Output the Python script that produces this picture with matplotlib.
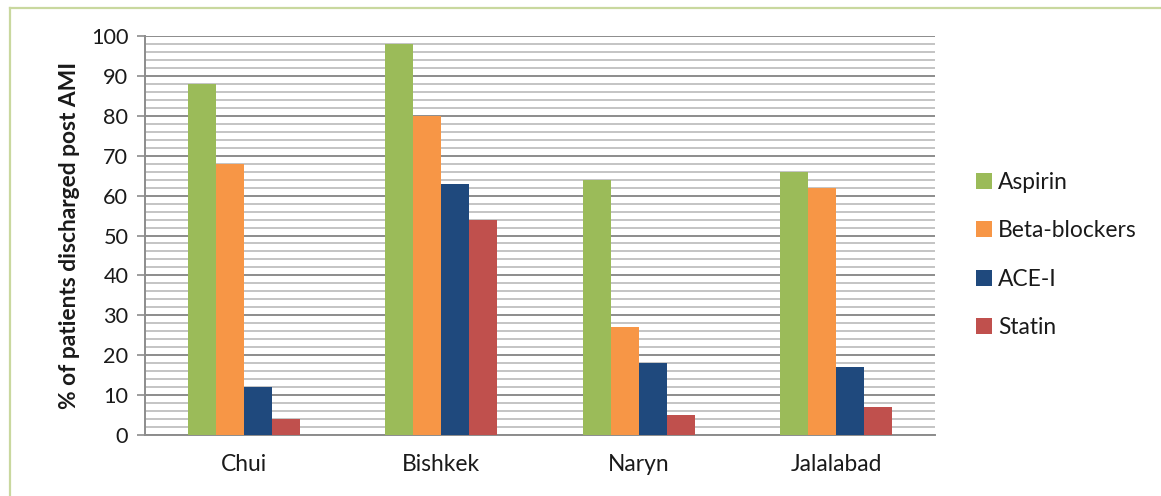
import matplotlib
matplotlib.use("Agg")
import matplotlib.pyplot as plt
from matplotlib.lines import Line2D
from matplotlib.ticker import MultipleLocator
import numpy as np

regions = ["Chui", "Bishkek", "Naryn", "Jalalabad"]
aspirin = [88, 98, 64, 66]
beta_blockers = [68, 80, 27, 62]
ace_i = [12, 63, 18, 17]
statin = [4, 54, 5, 7]

series_names = ["Aspirin", "Beta-blockers", "ACE-I", "Statin"]
series_values = [aspirin, beta_blockers, ace_i, statin]
series_colors = ["#9BBB59", "#F79646", "#1F497D", "#C0504D"]

plt.rcParams["font.family"] = ["Lato", "DejaVu Sans"]

fig = plt.figure(figsize=(11.61, 4.96), dpi=100)
ax = fig.add_axes([0.1249, 0.123, 0.6804, 0.8044])

x = np.arange(len(regions))
width = 0.142
handles = []
for i, (name, vals, col) in enumerate(zip(series_names, series_values, series_colors)):
    offs = (i - 1.5) * width
    b = ax.bar(x + offs, vals, width=width, color=col, label=name, zorder=3)
    handles.append(b)

ax.set_xlim(-0.5, len(regions) - 0.5)
ax.set_ylim(0, 100)
ax.yaxis.set_major_locator(MultipleLocator(10))
ax.yaxis.set_minor_locator(MultipleLocator(2))
ax.grid(which="major", axis="y", color="#8C8C8C", linewidth=1.4, zorder=0)
ax.grid(which="minor", axis="y", color="#C4C4C4", linewidth=1.4, zorder=0)
ax.set_xticks(x)
ax.set_xticklabels(regions, fontsize=16.4, color="#1A1A1A")
ax.tick_params(axis="x", length=0, pad=14)
ax.tick_params(axis="y", which="major", length=6, width=1.2, color="#8C8C8C",
               labelsize=15.6, labelcolor="#1A1A1A", pad=6)
ax.tick_params(axis="y", which="minor", length=0)
for s in ["top", "right"]:
    ax.spines[s].set_visible(False)
ax.spines["left"].set_color("#8C8C8C")
ax.spines["left"].set_linewidth(1.4)
ax.spines["bottom"].set_color("#8C8C8C")
ax.spines["bottom"].set_linewidth(1.4)
ax.set_axisbelow(True)

ax.set_ylabel("% of patients discharged post AMI", fontsize=16.4,
              fontweight="bold", color="#1A1A1A", labelpad=8)

leg = fig.legend(handles=handles, labels=series_names, loc="center left",
                 bbox_to_anchor=(976 / 1161, 1 - 255 / 496), frameon=False,
                 fontsize=16.4, borderpad=0, borderaxespad=0,
                 handlelength=0.7, handleheight=0.7, handletextpad=0.28,
                 labelspacing=1.2)
for t in leg.get_texts():
    t.set_color("#1A1A1A")

# light frame lines along top and left of the figure
fig.add_artist(Line2D([10 / 1161, 1.0], [1 - 8 / 496, 1 - 8 / 496],
                      transform=fig.transFigure, color="#C9D89F", linewidth=1.6))
fig.add_artist(Line2D([10 / 1161, 10 / 1161], [0.0, 1 - 8 / 496],
                      transform=fig.transFigure, color="#C9D89F", linewidth=1.6))

fig.savefig("out.png", dpi=100)
